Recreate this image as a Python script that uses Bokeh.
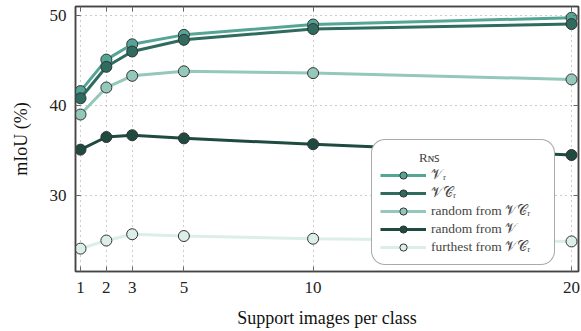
from bokeh.plotting import figure
from bokeh.models import (Range1d, FixedTicker, LinearAxis, Legend, LegendItem)
from bokeh.embed import file_html
from bokeh.resources import INLINE

# ---- data ----
support = [1, 2, 3, 5, 10, 20]
v_r = [41.6, 45.1, 46.8, 47.85, 49.0, 49.75]
v_cr = [40.8, 44.3, 46.0, 47.3, 48.5, 49.05]
rand_vcr = [39.0, 42.0, 43.3, 43.8, 43.6, 42.9]
rand_v = [35.1, 36.5, 36.7, 36.35, 35.7, 34.5]
furthest_vcr = [24.1, 25.0, 25.7, 25.5, 25.2, 24.9]

series = [
    ("𝒱ᵣ", v_r, "#55a596"),
    ("𝒱𝒞ᵣ", v_cr, "#2f6b5e"),
    ("random from 𝒱𝒞ᵣ", rand_vcr, "#93c8bb"),
    ("random from 𝒱", rand_v, "#1f4a40"),
    ("furthest from 𝒱𝒞ᵣ", furthest_vcr, "#dbeee8"),
]
x_ticks = [1, 2, 3, 5, 10, 20]
y_ticks = [30, 40, 50]

FONT = "Liberation Serif"
AX = "#444444"

p = figure(width=581, height=331, output_backend="svg", toolbar_location=None,
           x_range=Range1d(0.806, 20.27), y_range=Range1d(21.56, 51.0),
           min_border_left=75, min_border_right=3, min_border_top=6, min_border_bottom=60)
p.background_fill_color = "white"
p.border_fill_color = "white"
p.outline_line_color = AX
p.outline_line_width = 1.5

for ax in (p.xaxis[0], p.yaxis[0]):
    ax.axis_line_color = AX
    ax.axis_line_width = 1.5
    ax.major_tick_in = 5
    ax.major_tick_out = 0
    ax.major_tick_line_color = "#666666"
    ax.minor_tick_line_color = None
    ax.major_label_text_font = FONT
    ax.major_label_text_font_size = "17px"
    ax.major_label_text_color = "#222222"
    ax.axis_label_text_font = FONT
    ax.axis_label_text_font_size = "18px"
    ax.axis_label_text_font_style = "normal"
    ax.axis_label_text_color = "#111111"

p.xaxis[0].ticker = FixedTicker(ticks=x_ticks)
p.yaxis[0].ticker = FixedTicker(ticks=y_ticks)
p.xaxis[0].axis_label = "Support images per class"
p.yaxis[0].axis_label = "mIoU (%)"
p.xaxis[0].major_label_standoff = 10
p.xaxis[0].axis_label_standoff = 12
p.yaxis[0].major_label_standoff = 9
p.yaxis[0].axis_label_standoff = 16

# mirrored inner ticks (labels not drawn)
for loc, tk in (("right", y_ticks), ("above", x_ticks)):
    a = LinearAxis(ticker=FixedTicker(ticks=tk))
    a.major_label_text_font_size = "1px"
    a.major_label_text_color = None
    a.major_label_standoff = 0
    a.major_tick_in = 5
    a.major_tick_out = 0
    a.major_tick_line_color = "#666666"
    a.minor_tick_line_color = None
    a.axis_line_color = AX
    a.axis_line_width = 1.5
    p.add_layout(a, loc)

p.xgrid.ticker = FixedTicker(ticks=x_ticks)
p.ygrid.ticker = FixedTicker(ticks=y_ticks)
for g in (p.xgrid[0], p.ygrid[0]):
    g.grid_line_color = "#9a9a9a"
    g.grid_line_dash = "1 4"
    g.grid_line_width = 1

items = []
for label, vals, col in series:
    ln = p.line(support, vals, line_color=col, line_width=3)
    sc = p.scatter(support, vals, size=11, fill_color=col, line_color="#333333", line_width=1)
    items.append(LegendItem(label=label, renderers=[ln, sc]))

legend = Legend(items=items, location=(296, 6))
legend.title = "\u00a0" * 12 + "Rɴꜱ"
legend.title_text_font = FONT
legend.title_text_font_size = "13px"
legend.title_text_font_style = "normal"
legend.title_standoff = 0
legend.label_text_font = FONT
legend.label_text_font_size = "13.5px"
legend.label_height = 15
legend.label_width = 115
legend.glyph_width = 46
legend.glyph_height = 18
legend.spacing = 0
legend.padding = 8
legend.margin = 0
legend.border_line_color = "#555555"
legend.border_line_width = 1
legend.background_fill_alpha = 1.0
if "border_radius" in Legend.properties():
    legend.border_radius = 14
p.add_layout(legend, "center")

open("out.html", "w").write(file_html(p, INLINE))
